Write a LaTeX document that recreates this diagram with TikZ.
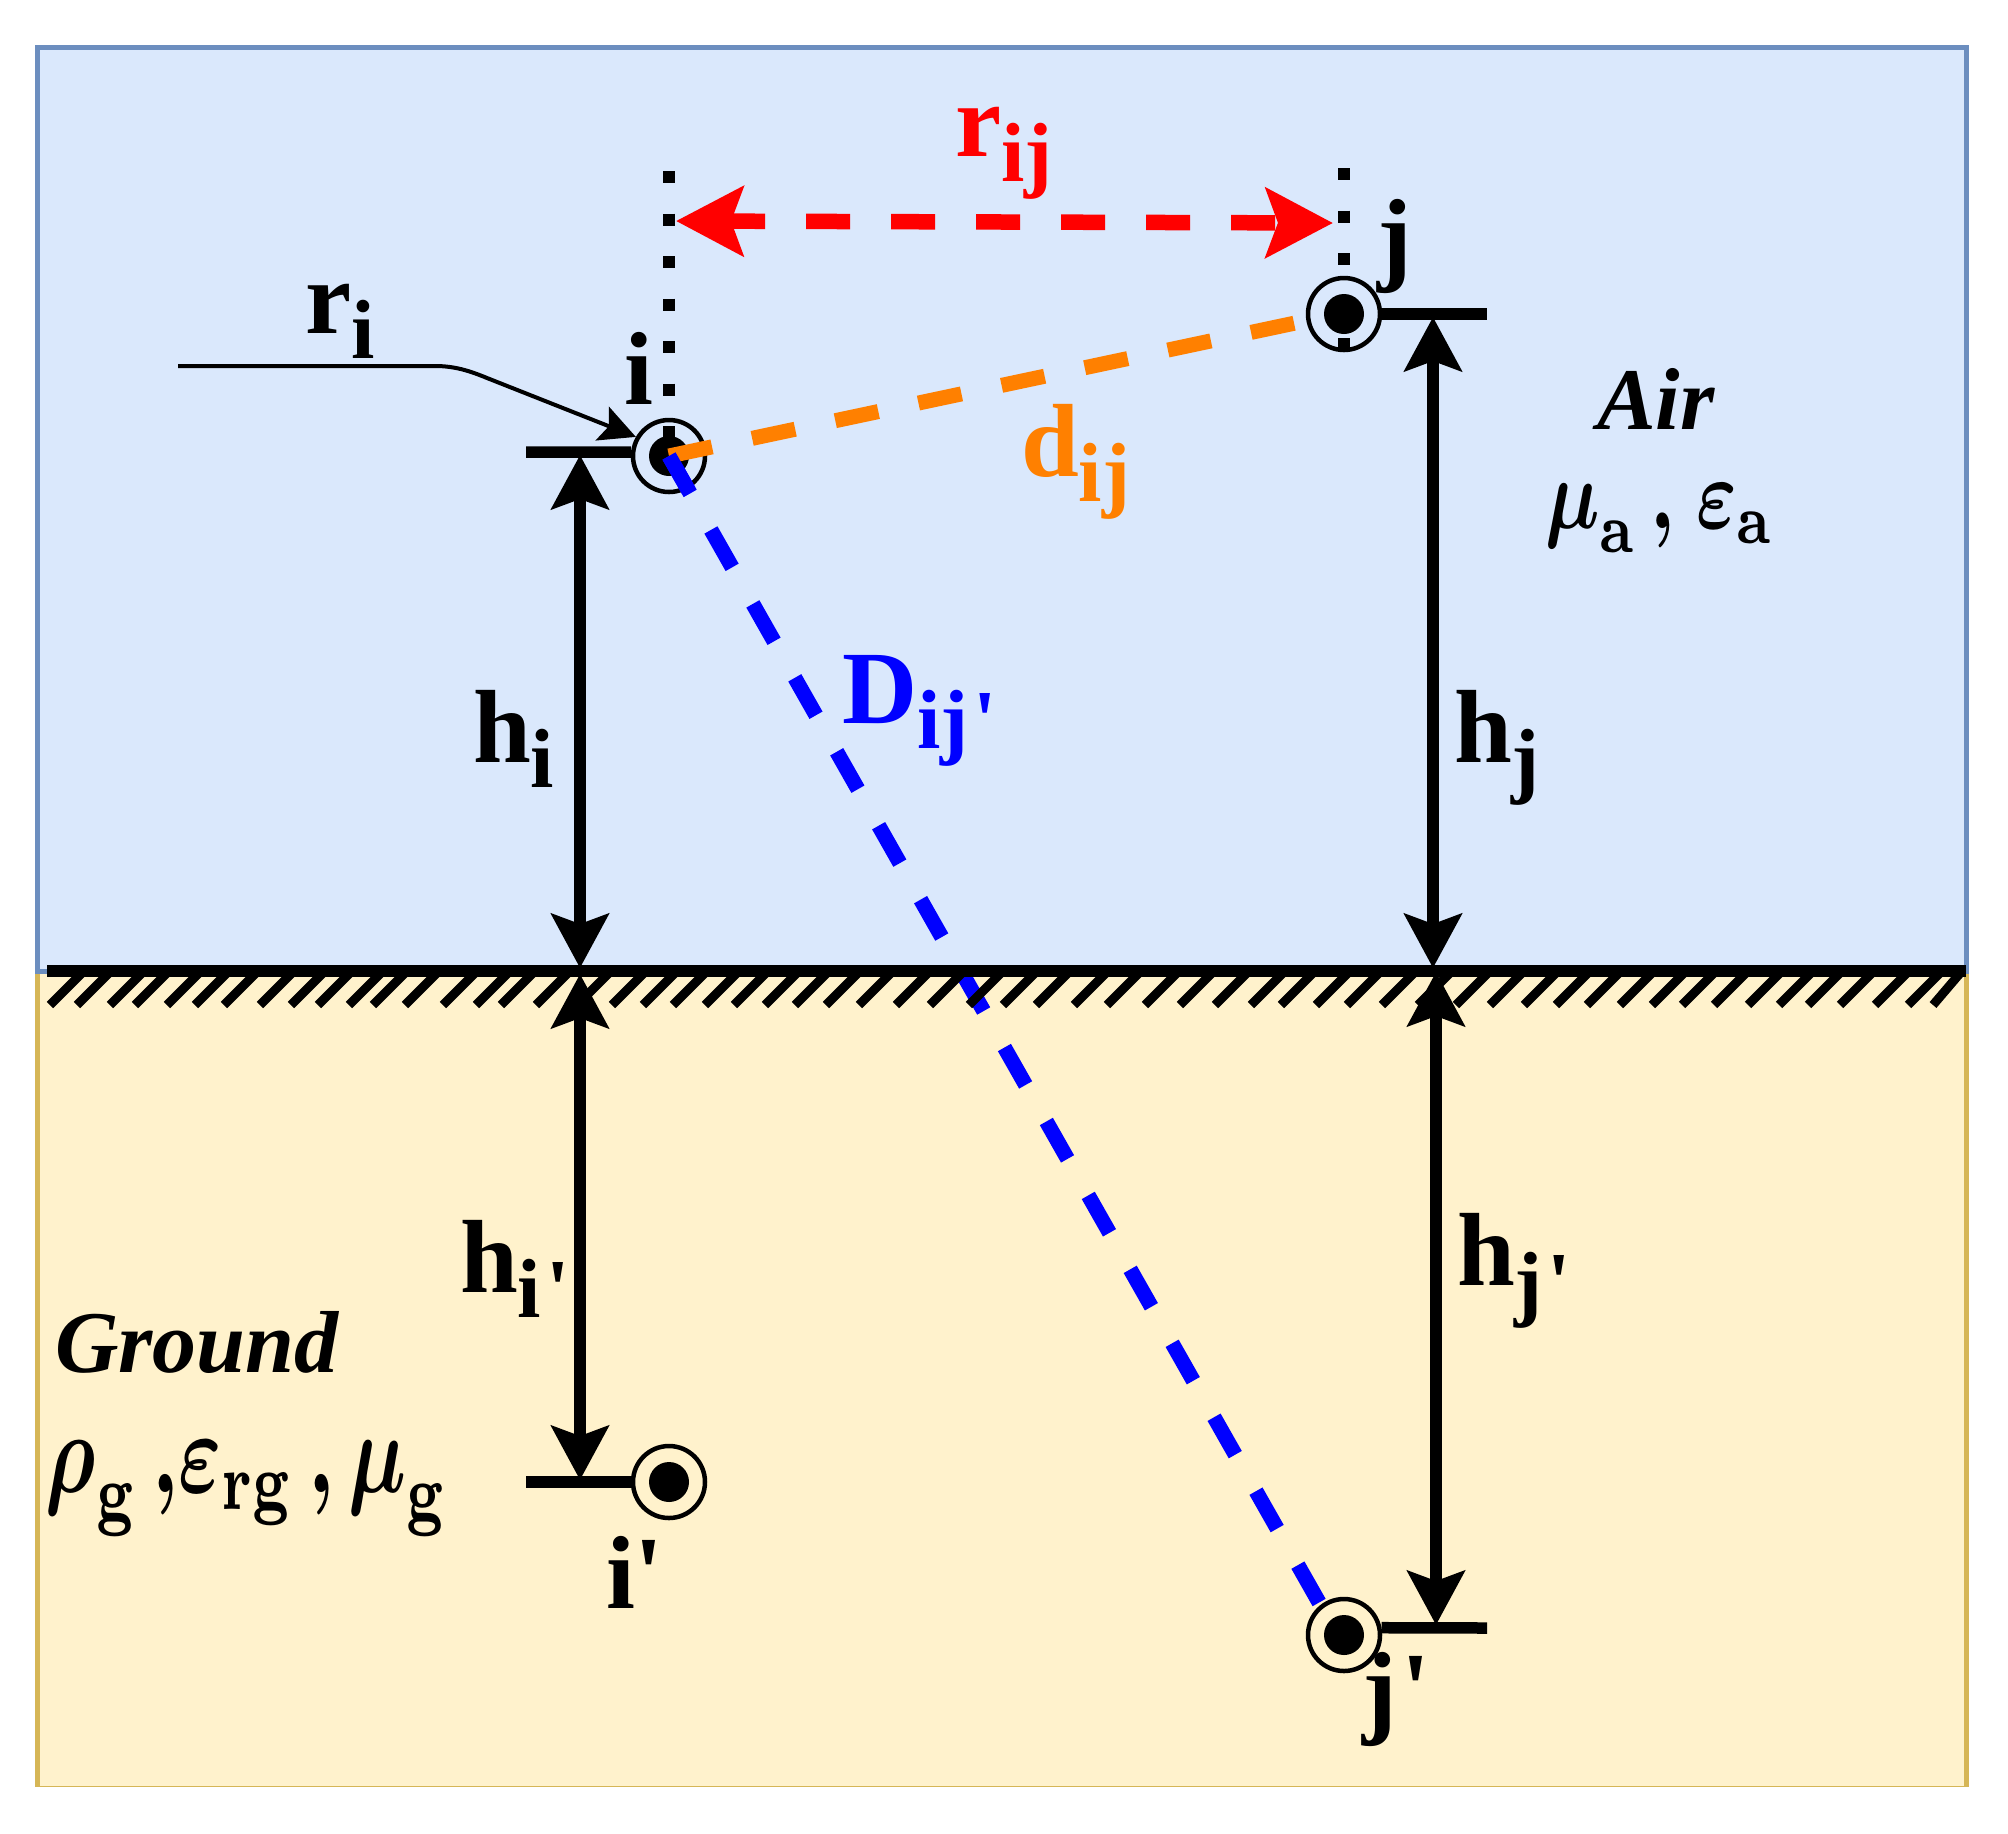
\documentclass[tikz,border=0pt]{standalone}
\usepackage{amsmath}
\usepackage[no-math]{fontspec}
\usetikzlibrary{arrows.meta,calc}
\newfontfamily\lib{Liberation Serif}
\definecolor{airfill}{HTML}{DAE8FC}
\definecolor{airline}{HTML}{6C8EBF}
\definecolor{gndfill}{HTML}{FFF2CC}
\definecolor{gndline}{HTML}{D6B656}
\definecolor{orangeline}{HTML}{FF8000}
\newcommand{\mainsize}{\fontsize{52}{56}\selectfont}
\newcommand{\subsize}{\fontsize{42}{46}\selectfont}
\newcommand{\lab}[2]{{\lib\bfseries\mainsize #1\raisebox{-12.5pt}{\subsize #2}}}
\newcommand{\single}[1]{{\lib\bfseries\mainsize #1}}
\newcommand{\medium}[1]{{\lib\bfseries\itshape\fontsize{44}{50}\selectfont #1}}
\newcommand{\primegap}{\kern2.5pt}
\tikzset{
  ring/.style={circle,draw=black,line width=2.25pt,minimum size=36pt,inner sep=0pt},
  core/.style={circle,fill=black,minimum size=20pt,inner sep=0pt},
  txt/.style={anchor=base west,inner sep=0pt,outer sep=0pt},
  mthair/.style={anchor=base west,inner sep=0pt,outer sep=0pt,xscale=3.85,yscale=5},
  mthgnd/.style={anchor=base west,inner sep=0pt,outer sep=0pt,xscale=4.1,yscale=5.8},
  stub/.style={line width=5.75pt,black},
  dim/.style={line width=6pt,black},
  bigtip/.tip={Stealth[length=27pt,width=28.5pt,inset=5pt]},
  redtip/.tip={Stealth[length=33.5pt,width=34.5pt,inset=6pt]},
  vdots/.style={line width=6pt,black,dash pattern=on 6pt off 15.25pt},
  hatchline/.style={line width=4.5pt,black},
}
\begin{document}
\begin{tikzpicture}[x=0.5pt,y=-0.5pt]
\useasboundingbox (0,0) rectangle (2008,1833);
% regions
\fill[gndfill] (37,971) rectangle (1966,1786);
\draw[gndline,line width=2.5pt] (37,971) -- (37,1787);
\draw[gndline,line width=2.5pt] (1966,971) -- (1966,1787);
\draw[gndline,line width=0.75pt] (37,1786.5) -- (1966,1786.5);
\draw[fill=airfill,draw=airline,line width=2.5pt] (37,47) rectangle (1966,971);
% wires
\node[ring] (ci) at (669,456) {};
\node[ring] (cj) at (1344,314) {};
\node[ring] (cip) at (669,1482) {};
\node[ring] (cjp) at (1344,1635) {};
% vertical dotted guides
\coordinate (dit) at (669,171);
\coordinate (djt) at (1344,168);
\coordinate (djb) at (1344,350);
\draw[vdots] (dit) -- (ci.center);
\draw[vdots] (djt) -- (djb);
% wire cores
\node[core] at (ci) {};
\node[core] at (cj) {};
\node[core] at (cip) {};
\node[core] at (cjp) {};
% blue distance (under the ground line)
\draw[line width=7.5pt,blue,dash pattern=on 21.5pt off 21pt] (ci.center) -- (cjp.128);
% ground
\coordinate (gl) at (47,971);
\coordinate (gr) at (1966,971);
\foreach \x in {47,74,107,132,164,192,221,257,288,315,346,370,402,440,473,498,533,574,609,640,670,702,731,762,792,823,856,893,927,966,1000,1033,1071,1104,1142,1177,1212,1248,1278,1313,1344,1379,1415,1453,1487,1521,1553,1584,1617,1649,1679,1711,1745,1776,1805,1837,1872,1905}
  \draw[hatchline] (\x+3,1005) -- (\x+38,970);
\draw[hatchline] (1933,1005) -- (1962,971);
\draw[line width=6pt,black] (gl) -- (gr);
% stubs
\coordinate (si) at (526,452);
\coordinate (sj) at (1487,314);
\coordinate (sip) at (526,1482);
\coordinate (sjp) at (1487,1628);
\draw[stub] (si) -- (ci.174);
\draw[stub] (cj.east) -- (sj);
\draw[stub] (sip) -- (cip.west);
\draw[stub] (cjp.11) -- (sjp);
% height arrows
\coordinate (ai1) at (580,455);
\coordinate (ai2) at (580,968);
\coordinate (ai3) at (580,974);
\coordinate (ai4) at (580,1480);
\coordinate (aj1) at (1433,317);
\coordinate (aj2) at (1433,968);
\coordinate (aj3) at (1436,972);
\coordinate (aj4) at (1436,1625);
\draw[dim,{bigtip}-{bigtip}] (ai1) -- (ai2);
\draw[dim,{bigtip}-{bigtip}] (ai3) -- (ai4);
\draw[dim,{bigtip}-{bigtip}] (aj1) -- (aj2);
\draw[dim,{bigtip}-{bigtip}] (aj3) -- (aj4);
% orange distance
\draw[line width=7.5pt,orangeline,dash pattern=on 22pt off 20.5pt] (ci.center) -- (cj.190);
% blue start again on top of the orange
\coordinate (bs2) at ($(ci.center)!0.03!(cjp.128)$);
\draw[line width=7.5pt,blue] (ci.center) -- (bs2);
% red distance
\coordinate (rl) at (676,221);
\coordinate (rr) at (1333,223);
\draw[line width=7.75pt,red,dash pattern=on 22pt off 20.5pt,dash phase=3pt,{redtip}-{redtip}] (rl) -- (rr);
% r_i leader
\coordinate (ls) at (178,366);
\draw[line width=2pt,black,-{Stealth[length=18pt,width=18pt,inset=3.5pt]}] (ls) -- (435,366) .. controls (455,366) and (470,371) .. (487,378) -- (ci.150);
% labels
\node[txt] (lri) at (305,333) {\lab{r}{i}};
\node[txt,text=red] (lrij) at (955,156) {\lab{r}{ij}};
\node[txt,text=orangeline] (ldij) at (1021,476) {\lab{d}{ij}};
\node[txt,text=blue] (lDij) at (842,723) {\lab{D}{ij\primegap'}};
\node[txt] (lhi) at (473,762) {\lab{h}{i}};
\node[txt] (lhj) at (1454,762) {\lab{h}{j}};
\node[txt] (lhip) at (460,1292) {\lab{h}{i\primegap'}};
\node[txt] (lhjp) at (1457,1285) {\lab{h}{j\primegap'}};
\node[txt] (li) at (624,404) {\single{i}};
\node[txt] (lj) at (1377,271) {\single{j}};
\node[txt] (lip) at (606,1608) {\single{i'}};
\node[txt] (ljp) at (1362,1724) {\single{j\kern2.5pt'}};
\node[txt] (lair) at (1597,429) {\medium{Air}};
\node[txt] (lgnd) at (55,1372) {\medium{Ground}};
\node[mthair] (lairp) at (1545,528) {$\boldsymbol{\mu}_{\mathbf{a}}\,\boldsymbol{,}\;\boldsymbol{\varepsilon}_{\mathbf{a}}$};
\node[mthgnd] (lgndp) at (46,1492) {$\boldsymbol{\rho}_{\mathbf{g}}\,\boldsymbol{,}\boldsymbol{\varepsilon}_{\mathbf{rg}}\,\boldsymbol{,}\,\boldsymbol{\mu}_{\mathbf{g}}$};
\end{tikzpicture}
\end{document}
